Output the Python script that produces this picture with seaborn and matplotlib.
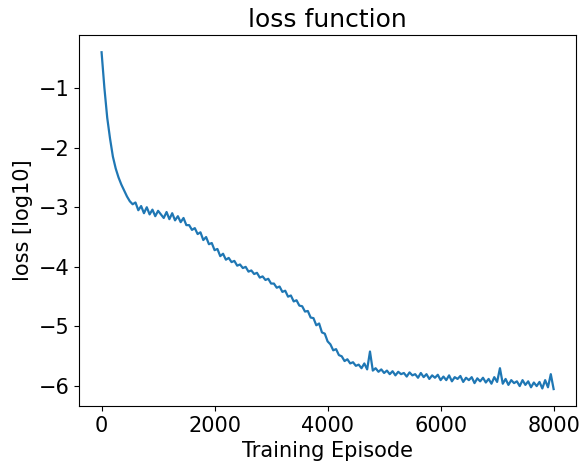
import matplotlib
matplotlib.use("Agg")
import matplotlib.pyplot as plt
import seaborn as sns
import numpy as np

episodes = list(range(0, 8001, 50))
loss_log10 = [
    -0.4,-1.0,-1.5,-1.85,-2.15,-2.35,-2.5,-2.62,-2.72,-2.82,-2.9,
    -2.95,-2.92,-3.05,-2.98,-3.1,-3.0,-3.12,-3.04,-3.15,-3.06,
    -3.12,-3.18,-3.08,-3.2,-3.1,-3.22,-3.15,-3.25,-3.18,-3.3,
    -3.3,-3.38,-3.35,-3.45,-3.42,-3.55,-3.5,-3.62,-3.6,-3.72,
    -3.7,-3.82,-3.78,-3.88,-3.85,-3.92,-3.9,-3.98,-3.96,-4.02,
    -4.0,-4.08,-4.06,-4.12,-4.1,-4.18,-4.16,-4.22,-4.2,-4.28,
    -4.28,-4.35,-4.33,-4.42,-4.4,-4.5,-4.48,-4.58,-4.56,-4.65,
    -4.66,-4.75,-4.74,-4.85,-4.86,-4.98,-4.95,-5.1,-5.12,-5.25,
    -5.3,-5.4,-5.38,-5.48,-5.5,-5.58,-5.55,-5.62,-5.6,-5.66,
    -5.64,-5.7,-5.62,-5.72,-5.42,-5.74,-5.7,-5.76,-5.72,-5.78,
    -5.74,-5.8,-5.75,-5.82,-5.76,-5.8,-5.78,-5.84,-5.77,-5.82,
    -5.8,-5.86,-5.78,-5.85,-5.8,-5.88,-5.82,-5.86,-5.81,-5.9,
    -5.84,-5.9,-5.82,-5.92,-5.85,-5.88,-5.83,-5.93,-5.86,-5.9,
    -5.85,-5.95,-5.87,-5.92,-5.86,-5.94,-5.88,-5.96,-5.85,-5.93,
    -5.7,-5.96,-5.88,-5.98,-5.9,-5.95,-5.92,-6.0,-5.9,-5.98,
    -5.92,-6.02,-5.94,-6.0,-5.93,-6.04,-5.9,-6.02,-5.8,-6.05,
]

plt.rcParams['font.size'] = 15
fig, ax = plt.subplots(figsize=(5.85, 4.72), dpi=100)
sns.lineplot(x=episodes, y=loss_log10, ax=ax, color="#1f77b4", linewidth=1.6)
ax.set_title("loss function", fontsize=18)
ax.set_xlabel("Training Episode", fontsize=15)
ax.set_ylabel("loss [log10]", fontsize=15)
ax.set_xticks([0, 2000, 4000, 6000, 8000])
ax.set_yticks([-6, -5, -4, -3, -2, -1])
ax.set_yticklabels(["\u22126", "\u22125", "\u22124", "\u22123", "\u22122", "\u22121"])
ax.tick_params(labelsize=15)
fig.subplots_adjust(left=0.135, right=0.985, top=0.925, bottom=0.14)
fig.savefig("out.png", dpi=100)
